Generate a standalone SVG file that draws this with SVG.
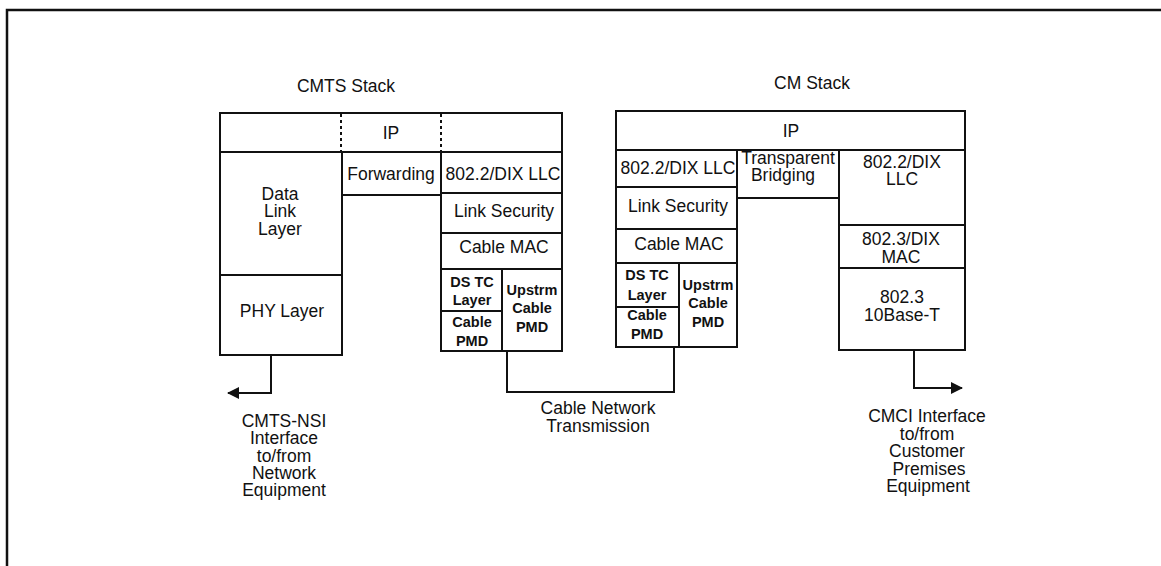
<svg xmlns="http://www.w3.org/2000/svg" width="1161" height="566" viewBox="0 0 1161 566">
  <style>
    .box { fill: #fff; stroke: #111; stroke-width: 2; }
    .t { font-family: "Liberation Sans", Arial, sans-serif; font-size: 17.5px; fill: #111; text-anchor: middle; }
    .b { font-family: "Liberation Sans", Arial, sans-serif; font-size: 14.5px; font-weight: bold; fill: #111; text-anchor: middle; }
    .wire { fill: none; stroke: #111; stroke-width: 2; }
    .dots { stroke: #111; stroke-width: 2; stroke-dasharray: 3 3; }
  </style>
  <defs>
    <marker id="arrow" viewBox="0 0 12 12" refX="11" refY="6" markerWidth="12" markerHeight="12" markerUnits="userSpaceOnUse" orient="auto">
      <path d="M0,0 L12,6 L0,12 Z" fill="#111"/>
    </marker>
  </defs>

  <rect width="1161" height="566" fill="#fff"/>
  <!-- page frame -->
  <path d="M7,566 V10 H1161" fill="none" stroke="#111" stroke-width="2.5"/>

  <!-- stack titles -->
  <text class="t" x="346" y="92">CMTS Stack</text>
  <text class="t" x="812" y="89">CM Stack</text>

  <!-- CMTS stack -->
  <g id="cmts-ip">
    <rect class="box" x="220" y="113" width="342" height="39"/>
    <line class="dots" x1="341" y1="114" x2="341" y2="151"/>
    <line class="dots" x1="441" y1="114" x2="441" y2="151"/>
    <text class="t" x="391" y="139">IP</text>
  </g>
  <g id="cmts-datalink">
    <rect class="box" x="220" y="152" width="122" height="123"/>
    <text class="t" x="280" y="200">Data</text>
    <text class="t" x="280" y="217">Link</text>
    <text class="t" x="280" y="235">Layer</text>
  </g>
  <g id="cmts-phy">
    <rect class="box" x="220" y="275" width="122" height="80"/>
    <text class="t" x="282" y="317">PHY Layer</text>
  </g>
  <g id="cmts-forwarding">
    <rect class="box" x="342" y="152" width="99" height="43"/>
    <text class="t" x="391" y="180">Forwarding</text>
  </g>
  <g id="cmts-llc">
    <rect class="box" x="441" y="152" width="121" height="41"/>
    <text class="t" x="503" y="180">802.2/DIX LLC</text>
  </g>
  <g id="cmts-linksec">
    <rect class="box" x="441" y="193" width="121" height="40"/>
    <text class="t" x="504" y="217">Link Security</text>
  </g>
  <g id="cmts-cablemac">
    <rect class="box" x="441" y="233" width="121" height="36"/>
    <text class="t" x="504" y="253">Cable MAC</text>
  </g>
  <g id="cmts-dstc">
    <rect class="box" x="441" y="269" width="61" height="42"/>
    <text class="b" x="472" y="287">DS TC</text>
    <text class="b" x="472" y="305">Layer</text>
  </g>
  <g id="cmts-cablepmd">
    <rect class="box" x="441" y="311" width="61" height="40"/>
    <text class="b" x="472" y="327">Cable</text>
    <text class="b" x="472" y="346">PMD</text>
  </g>
  <g id="cmts-upstrm">
    <rect class="box" x="502" y="269" width="60" height="82"/>
    <text class="b" x="532" y="295">Upstrm</text>
    <text class="b" x="532" y="313">Cable</text>
    <text class="b" x="532" y="332">PMD</text>
  </g>

  <!-- CM stack -->
  <g id="cm-ip">
    <rect class="box" x="616" y="111" width="349" height="39"/>
    <text class="t" x="791" y="137">IP</text>
  </g>
  <g id="cm-llc">
    <rect class="box" x="616" y="150" width="121" height="37"/>
    <text class="t" x="678" y="174">802.2/DIX LLC</text>
  </g>
  <g id="cm-linksec">
    <rect class="box" x="616" y="187" width="121" height="42"/>
    <text class="t" x="678" y="212">Link Security</text>
  </g>
  <g id="cm-cablemac">
    <rect class="box" x="616" y="229" width="121" height="34"/>
    <text class="t" x="679" y="250">Cable MAC</text>
  </g>
  <g id="cm-dstc">
    <rect class="box" x="616" y="263" width="63" height="44"/>
    <text class="b" x="647" y="280">DS TC</text>
    <text class="b" x="647" y="300">Layer</text>
  </g>
  <g id="cm-cablepmd">
    <rect class="box" x="616" y="307" width="63" height="40"/>
    <text class="b" x="647" y="320">Cable</text>
    <text class="b" x="647" y="339">PMD</text>
  </g>
  <g id="cm-upstrm">
    <rect class="box" x="679" y="263" width="58" height="84"/>
    <text class="b" x="708" y="290">Upstrm</text>
    <text class="b" x="708" y="308">Cable</text>
    <text class="b" x="708" y="327">PMD</text>
  </g>
  <g id="cm-bridging">
    <rect class="box" x="737" y="150" width="102" height="48"/>
    <text class="t" x="788" y="164">Transparent</text>
    <text class="t" x="783" y="181">Bridging</text>
  </g>
  <g id="cm-llc-eth">
    <rect class="box" x="839" y="150" width="126" height="75"/>
    <text class="t" x="902" y="168">802.2/DIX</text>
    <text class="t" x="902" y="185">LLC</text>
  </g>
  <g id="cm-mac-eth">
    <rect class="box" x="839" y="225" width="126" height="43"/>
    <text class="t" x="901" y="245">802.3/DIX</text>
    <text class="t" x="901" y="263">MAC</text>
  </g>
  <g id="cm-10baset">
    <rect class="box" x="839" y="268" width="126" height="82"/>
    <text class="t" x="902" y="303">802.3</text>
    <text class="t" x="902" y="321">10Base-T</text>
  </g>

  <!-- connectors -->
  <g id="connectors">
    <path class="wire" d="M271,355 V393 H228" marker-end="url(#arrow)"/>
    <path class="wire" d="M507,351 V392 H674 V347"/>
    <path class="wire" d="M914,350 V388 H962" marker-end="url(#arrow)"/>
  </g>

  <!-- interface labels -->
  <g id="label-nsi">
    <text class="t" x="284" y="427">CMTS-NSI</text>
    <text class="t" x="284" y="444">Interface</text>
    <text class="t" x="284" y="462">to/from</text>
    <text class="t" x="284" y="479">Network</text>
    <text class="t" x="284" y="496">Equipment</text>
  </g>
  <g id="label-cable">
    <text class="t" x="598" y="414">Cable Network</text>
    <text class="t" x="598" y="432">Transmission</text>
  </g>
  <g id="label-cmci">
    <text class="t" x="927" y="422">CMCI Interface</text>
    <text class="t" x="927" y="440">to/from</text>
    <text class="t" x="927" y="457">Customer</text>
    <text class="t" x="929" y="475">Premises</text>
    <text class="t" x="928" y="492">Equipment</text>
  </g>
</svg>
